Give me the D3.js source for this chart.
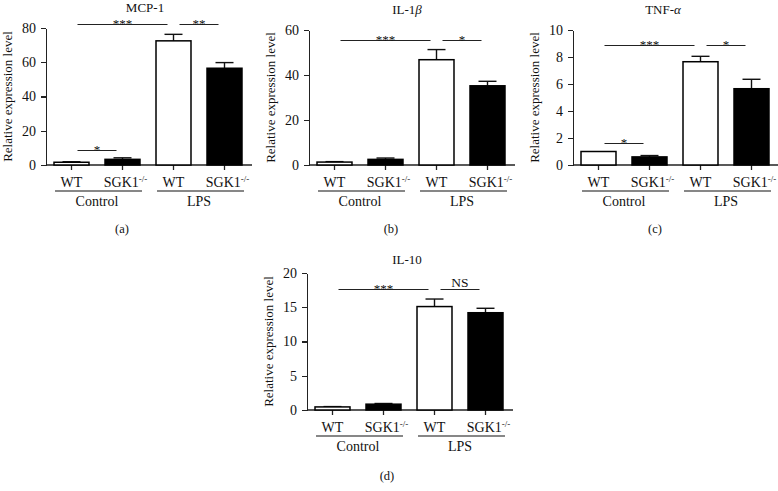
<!DOCTYPE html>
<html>
<head>
<meta charset="utf-8">
<title>Cytokine expression</title>
<style>
  body { margin: 0; background: #fff; }
  svg { display: block; font-family: "Liberation Serif", "Times New Roman", serif; }
  .axis path, .axis line { stroke: #222; stroke-width: 1.3; shape-rendering: crispEdges; }
  .axis text { font-size: 14px; fill: #111; font-family: "Liberation Serif", serif; }
</style>
</head>
<body>
<svg width="778" height="491"></svg>
<script src="https://cdn.jsdelivr.net/npm/d3@7"></script>
<script>

// ---- data ----
var groups = ["Control", "LPS"];
var genotypes = ["WT", "SGK1"];
var titles = ["MCP-1", "IL-1β", "TNF-α", "IL-10"];
var panelLetters = ["(a)", "(b)", "(c)", "(d)"];

var mcp1Mean = [1.6, 3.3, 72.5, 56.5];
var mcp1Err  = [0.3, 0.9, 3.8, 3.3];
var il1bMean = [1.3, 2.5, 46.8, 35.2];
var il1bErr  = [0.2, 0.6, 4.5, 2.0];
var tnfMean  = [1.0, 0.6, 7.65, 5.65];
var tnfErr   = [0.0, 0.1, 0.4, 0.7];
var il10Mean = [0.45, 0.85, 15.1, 14.2];
var il10Err  = [0.05, 0.1, 1.1, 0.65];

var yMax = [80, 60, 10, 20];
var yTicks = [
  [0, 20, 40, 60, 80],
  [0, 20, 40, 60],
  [0, 2, 4, 6, 8, 10],
  [0, 5, 10, 15, 20]
];

// significance: [from bar, to bar, label, height in data units]
var mcp1Sig = [[0, 1, "*", 8.8], [0, 2, "***", 82.3], [2, 3, "**", 82.3]];
var il1bSig = [[0, 2, "***", 55.6], [2, 3, "*", 55.6]];
var tnfSig  = [[0, 1, "*", 1.63], [0, 2, "***", 8.9], [2, 3, "*", 8.9]];
var il10Sig = [[0, 2, "***", 17.7], [2, 3, "NS", 17.7]];

var means = [mcp1Mean, il1bMean, tnfMean, il10Mean];
var errs = [mcp1Err, il1bErr, tnfErr, il10Err];
var sigs = [mcp1Sig, il1bSig, tnfSig, il10Sig];

// ---- layout (pixels) ----
var layout = [
  {x0: 46,  top: 28,  bottom: 165, titleX: 145, letterX: 122, letterY: 233, titleY: 12},
  {x0: 309, top: 30,  bottom: 165, titleX: 407, letterX: 391, letterY: 233, titleY: 14},
  {x0: 573, top: 30,  bottom: 165, titleX: 663, letterX: 655, letterY: 233, titleY: 14},
  {x0: 307, top: 273, bottom: 410, titleX: 407, letterX: 387, letterY: 480, titleY: 264}
];

var svg = d3.select("svg");
var bars = [];
groups.forEach(function(g) { genotypes.forEach(function(t) { bars.push(g + "|" + t); }); });

layout.forEach(function(L, p) {
  var g = svg.append("g");

  var x = d3.scaleBand()
    .domain(bars)
    .range([L.x0, L.x0 + 204])
    .paddingInner(0.314)
    .paddingOuter(0.157);

  var y = d3.scaleLinear()
    .domain([0, yMax[p]])
    .range([L.bottom, L.top]);

  var data = bars.map(function(k, i) {
    return {key: k, geno: k.split("|")[1], mean: means[p][i], err: errs[p][i]};
  });

  // y axis
  g.append("g")
    .attr("class", "axis")
    .attr("transform", "translate(" + L.x0 + ",0)")
    .call(d3.axisLeft(y).tickValues(yTicks[p]).tickSize(5).tickPadding(5).tickSizeOuter(0));

  // x axis line + ticks
  g.append("line")
    .attr("x1", L.x0).attr("x2", L.x0 + 206)
    .attr("y1", L.bottom).attr("y2", L.bottom)
    .attr("stroke", "#222").attr("stroke-width", 1.3);

  g.selectAll(".xtick").data(data).enter().append("line")
    .attr("x1", function(d) { return x(d.key) + x.bandwidth() / 2; })
    .attr("x2", function(d) { return x(d.key) + x.bandwidth() / 2; })
    .attr("y1", L.bottom).attr("y2", L.bottom + 5)
    .attr("stroke", "#222").attr("stroke-width", 1.3);

  // error bars
  var eb = g.selectAll(".err").data(data).enter().append("g");
  eb.append("line")
    .attr("x1", function(d) { return x(d.key) + x.bandwidth() / 2; })
    .attr("x2", function(d) { return x(d.key) + x.bandwidth() / 2; })
    .attr("y1", function(d) { return y(d.mean); })
    .attr("y2", function(d) { return y(d.mean + d.err); })
    .attr("stroke", "#111").attr("stroke-width", 1.4);
  eb.filter(function(d) { return d.err > 0; }).append("line")
    .attr("x1", function(d) { return x(d.key) + x.bandwidth() / 2 - 9; })
    .attr("x2", function(d) { return x(d.key) + x.bandwidth() / 2 + 9; })
    .attr("y1", function(d) { return y(d.mean + d.err); })
    .attr("y2", function(d) { return y(d.mean + d.err); })
    .attr("stroke", "#111").attr("stroke-width", 1.4);

  // bars
  g.selectAll(".bar").data(data).enter().append("rect")
    .attr("x", function(d) { return x(d.key); })
    .attr("y", function(d) { return y(d.mean); })
    .attr("width", x.bandwidth())
    .attr("height", function(d) { return L.bottom - y(d.mean); })
    .attr("fill", function(d) { return d.geno === "WT" ? "#fff" : "#000"; })
    .attr("stroke", "#000").attr("stroke-width", 1.5);

  // genotype labels
  var lab = g.selectAll(".glab").data(data).enter().append("text")
    .attr("x", function(d) { return x(d.key) + x.bandwidth() / 2 + (d.geno === "WT" ? 0 : 3); })
    .attr("y", L.bottom + 22)
    .attr("text-anchor", "middle")
    .attr("font-size", 14)
    .attr("fill", "#111");
  lab.append("tspan").text(function(d) { return d.geno; });
  lab.filter(function(d) { return d.geno !== "WT"; }).append("tspan")
    .attr("font-size", 9)
    .attr("dy", -5)
    .text("-/-");

  // group underlines and labels
  groups.forEach(function(gr) {
    var first = x(gr + "|" + genotypes[0]);
    var last = x(gr + "|" + genotypes[1]) + x.bandwidth();
    g.append("line")
      .attr("x1", first + 1).attr("x2", last + 2)
      .attr("y1", L.bottom + 26).attr("y2", L.bottom + 26)
      .attr("stroke", "#111").attr("stroke-width", 1.2);
    g.append("text")
      .attr("x", (first + last) / 2)
      .attr("y", L.bottom + 41)
      .attr("text-anchor", "middle")
      .attr("font-size", 14)
      .attr("fill", "#111")
      .text(gr);
  });

  // significance
  sigs[p].forEach(function(s) {
    var xa = x(bars[s[0]]) + x.bandwidth() / 2 + 6;
    var xb = x(bars[s[1]]) + x.bandwidth() / 2 - 6;
    var yy = Math.round(y(s[3])) + 0.5;
    g.append("line")
      .attr("x1", xa).attr("x2", xb)
      .attr("y1", yy).attr("y2", yy)
      .attr("stroke", "#222").attr("stroke-width", 1.2);
    g.append("text")
      .attr("x", (xa + xb) / 2)
      .attr("y", s[2] === "NS" ? yy - 3 : yy + 3)
      .attr("text-anchor", "middle")
      .attr("font-size", s[2] === "NS" ? 13.5 : 13)
      .attr("fill", "#111")
      .text(s[2]);
  });

  // y label
  g.append("text")
    .attr("transform", "translate(" + (L.x0 - 34) + "," + ((L.top + L.bottom) / 2) + ") rotate(-90)")
    .attr("text-anchor", "middle")
    .attr("font-size", 13)
    .attr("fill", "#111")
    .text("Relative expression level");

  // title
  var t = g.append("text")
    .attr("x", L.titleX).attr("y", L.titleY)
    .attr("text-anchor", "middle")
    .attr("font-size", 13)
    .attr("fill", "#111");
  var parts = titles[p].split(/([βα])/);
  parts.forEach(function(s) {
    if (!s) return;
    var ts = t.append("tspan").text(s);
    if (s === "β" || s === "α") ts.attr("font-style", "italic");
  });

  // panel letter
  g.append("text")
    .attr("x", L.letterX).attr("y", L.letterY)
    .attr("text-anchor", "middle")
    .attr("font-size", 12.5)
    .attr("fill", "#111")
    .text(panelLetters[p]);
});

</script>
</body>
</html>
